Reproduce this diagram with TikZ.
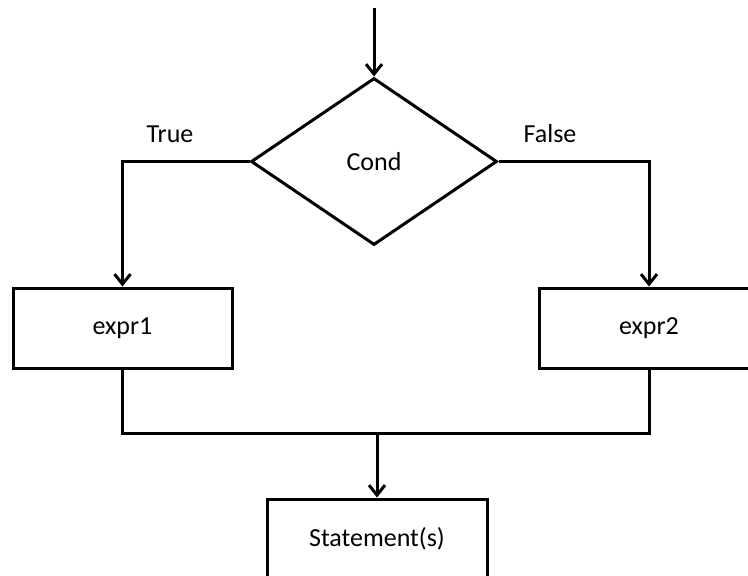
\documentclass[tikz,border=0pt]{standalone}
\usepackage{fontspec}
\setmainfont{Carlito}
\usetikzlibrary{shapes.geometric,arrows.meta}
\tikzset{
  box/.style={draw, line width=3pt, rectangle, minimum width=219pt, minimum height=80pt, inner sep=0pt, font=\fontsize{26}{31}\selectfont},
  decision/.style={draw, line width=3pt, diamond, minimum width=246pt, minimum height=167pt, inner sep=0pt, font=\fontsize{26}{31}\selectfont},
  conn/.style={line width=3pt},
  arr/.style={conn, -{Straight Barb[length=10pt,width=16pt,line width=3pt]}},
  lbl/.style={font=\fontsize{26}{31}\selectfont, inner sep=0pt}
}
\begin{document}
\begin{tikzpicture}[x=1pt,y=-1pt]
\useasboundingbox (0,0) rectangle (748,576);
\clip (0,0) rectangle (748,576);
\node[decision] (cond) at (374,161.5) {Cond};
\node[box] (e1) at (122.5,328) {expr1};
\node[box, minimum width=220pt] (e2) at (649,328) {expr2};
\node[box, minimum width=220pt] (st) at (377,539) {Statement(s)};
\coordinate (start) at (374,8);
\coordinate (m) at (377,433);
\draw[arr] (start) -- (cond.north);
\draw[arr] (cond.west) -| (e1.north);
\draw[arr] (cond.east) -| (e2.north);
\draw[conn] (e1.south) |- (m) -| (e2.south);
\draw[arr] (m) -- (st.north);
\node[lbl] (t) at (170,134) {True};
\node[lbl] (f) at (550,134) {False};
\end{tikzpicture}
\end{document}
